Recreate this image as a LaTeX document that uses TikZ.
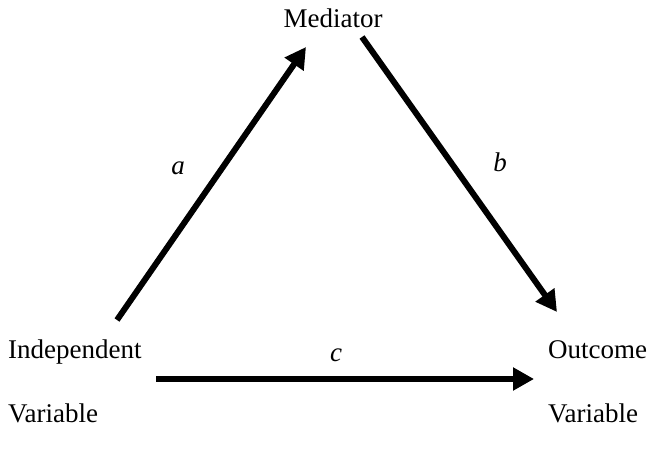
\documentclass[tikz,border=0pt]{standalone}
\usepackage{fontspec}
\setmainfont{Liberation Serif}
\usetikzlibrary{arrows.meta}
\tikzset{
varlabel/.style={inner sep=0pt,font=\fontsize{27}{32}\selectfont},
pathlabel/.style={inner sep=0pt,anchor=base,font=\fontsize{27}{32}\selectfont\itshape},
patharrow/.style={-{Triangle[length=21pt,width=22pt]},line width=6pt,black}
}
\begin{document}
\begin{tikzpicture}[x=1pt,y=-1pt]
\useasboundingbox (0,0) rectangle (651,465);
% variables
\node[varlabel,anchor=base] (med) at (333,28) {Mediator};
\node[varlabel,anchor=base west] (indep) at (8,358) {Independent};
\node[varlabel,anchor=base west] (indepvar) at (8,422) {Variable};
\node[varlabel,anchor=base west] (out) at (548,358) {Outcome};
\node[varlabel,anchor=base west] (outvar) at (548,422) {Variable};
% arrow ends
\coordinate (aS) at (117,320);
\coordinate (aE) at (306,47);
\coordinate (bS) at (362,37);
\coordinate (bE) at (557,312);
\coordinate (cS) at (156,379);
\coordinate (cE) at (534,379);
\draw[patharrow] (aS) -- (aE);
\draw[patharrow] (bS) -- (bE);
\draw[patharrow] (cS) -- (cE);
% path labels
\node[pathlabel] (la) at (178,175) {a};
\node[pathlabel] (lb) at (500,172) {b};
\node[pathlabel] (lc) at (336,361) {c};
\end{tikzpicture}
\end{document}
